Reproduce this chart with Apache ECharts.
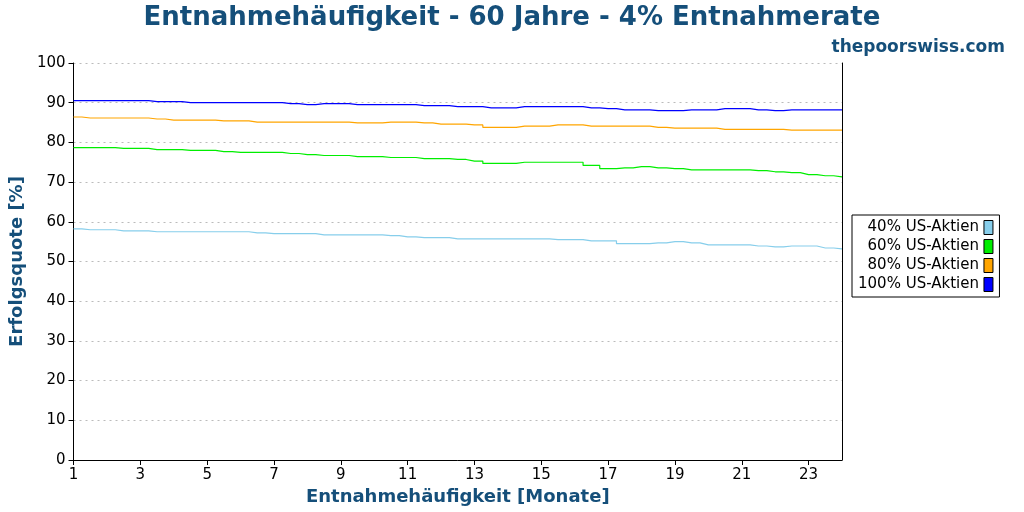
<!DOCTYPE html>
<html><head><meta charset="utf-8">
<script src="https://cdn.jsdelivr.net/npm/echarts@6/dist/echarts.min.js"></script>
<style>html,body{margin:0;padding:0;background:#fff}#c{width:1024px;height:512px}</style>
</head><body><div id="c"></div>
<script>
const months = [1,1.5,2,2.5,3,3.5,4,4.5,5,5.5,6,6.5,7,7.5,8,8.5,9,9.5,10,10.5,11,11.5,12,12.5,13,13.5,14,14.5,15,15.5,16,16.5,17,17.5,18,18.5,19,19.5,20,20.5,21,21.5,22,22.5,23,23.5,24];
const s40 = [58.2,58,58,57.7,57.7,57.5,57.5,57.5,57.5,57.5,57.5,57.2,57,57,57,56.7,56.7,56.7,56.7,56.5,56.2,56,56,55.7,55.7,55.7,55.7,55.7,55.7,55.5,55.5,55.2,55.2,54.5,54.5,54.7,55,54.7,54.2,54.2,54.2,53.9,53.7,53.9,53.9,53.4,53.2];
const s60 = [78.7,78.7,78.7,78.5,78.5,78.2,78.2,78,78,77.7,77.5,77.5,77.5,77.2,76.9,76.7,76.7,76.4,76.4,76.2,76.2,75.9,75.9,75.7,75.3,74.7,74.7,75,75,75,75,74.2,73.4,73.6,73.9,73.6,73.4,73.1,73.1,73.1,73.1,72.9,72.6,72.4,71.9,71.6,71.3];
const s80 = [86.4,86.15,86.15,86.15,86.15,85.9,85.6,85.6,85.6,85.4,85.4,85.1,85.1,85.1,85.1,85.1,85.1,84.9,84.9,85.1,85.1,84.9,84.6,84.6,84.4,83.8,83.8,84.1,84.1,84.4,84.4,84.1,84.1,84.1,84.1,83.8,83.6,83.6,83.6,83.3,83.3,83.3,83.3,83.1,83.1,83.1,83.1];
const s100 = [90.5,90.5,90.5,90.5,90.5,90.25,90.25,90,90,90,90,90,90,89.75,89.5,89.75,89.75,89.5,89.5,89.5,89.5,89.25,89.25,89,89,88.7,88.7,89,89,89,89,88.7,88.5,88.2,88.2,88,88,88.2,88.2,88.5,88.5,88.2,88,88.2,88.2,88.2,88.2];
const names = ['40% US-Aktien','60% US-Aktien','80% US-Aktien','100% US-Aktien'];
const colors = ['#87ceeb','#00ee00','#ffa500','#0000ff'];
const data = [s40,s60,s80,s100];
const blue = '#154f7a';
const ch = echarts.init(document.getElementById('c'));
ch.setOption({
  animation:false,
  textStyle:{fontFamily:'DejaVu Sans'},
  title:[{text:'Entnahmehäufigkeit - 60 Jahre - 4% Entnahmerate',left:'center',top:0,textStyle:{color:blue,fontSize:26,fontWeight:'bold',fontFamily:'DejaVu Sans'}},
         {text:'thepoorswiss.com',right:14,top:34,textStyle:{color:blue,fontSize:17,fontWeight:'bold',fontFamily:'DejaVu Sans'}}],
  legend:{orient:'vertical',left:852,top:215,align:'right',itemWidth:9,itemHeight:14,itemGap:4,
    borderColor:'#000',borderWidth:1,borderRadius:0,padding:[5,6,5,6],
    textStyle:{fontSize:15,color:'#000'},data:names.map(n=>({name:n,icon:'rect',itemStyle:{borderColor:'#000',borderWidth:1}}))},
  grid:{left:70,right:182,top:63,bottom:52},
  xAxis:{type:'value',min:1,max:24,interval:2,
    name:'Entnahmehäufigkeit [Monate]',nameLocation:'middle',nameGap:28,
    nameTextStyle:{color:blue,fontSize:18,fontWeight:'bold'},
    axisLine:{lineStyle:{color:'#000'}},axisTick:{lineStyle:{color:'#000'},length:5},
    axisLabel:{color:'#000',fontSize:15,showMaxLabel:false},splitLine:{show:false}},
  yAxis:[{type:'value',min:0,max:100,interval:10,
    name:'Erfolgsquote [%]',nameLocation:'middle',nameGap:44,
    nameTextStyle:{color:blue,fontSize:18,fontWeight:'bold'},
    axisLine:{show:true,lineStyle:{color:'#000'}},axisTick:{show:true,lineStyle:{color:'#000'},length:5},
    axisLabel:{color:'#000',fontSize:15},
    splitLine:{lineStyle:{color:'#bbb',type:[2,4]}}},
    {type:'value',min:0,max:100,interval:10,position:'right',axisLine:{show:true,lineStyle:{color:'#000'}},axisTick:{show:false},axisLabel:{show:false},splitLine:{show:false}}],
  series:data.map((d,i)=>({name:names[i],type:'line',step:'middle',showSymbol:false,
    color:colors[i],lineStyle:{width:1.2,color:colors[i]},
    itemStyle:{color:colors[i]},
    data:months.map((m,j)=>[m,d[j]])}))
});
</script></body></html>
